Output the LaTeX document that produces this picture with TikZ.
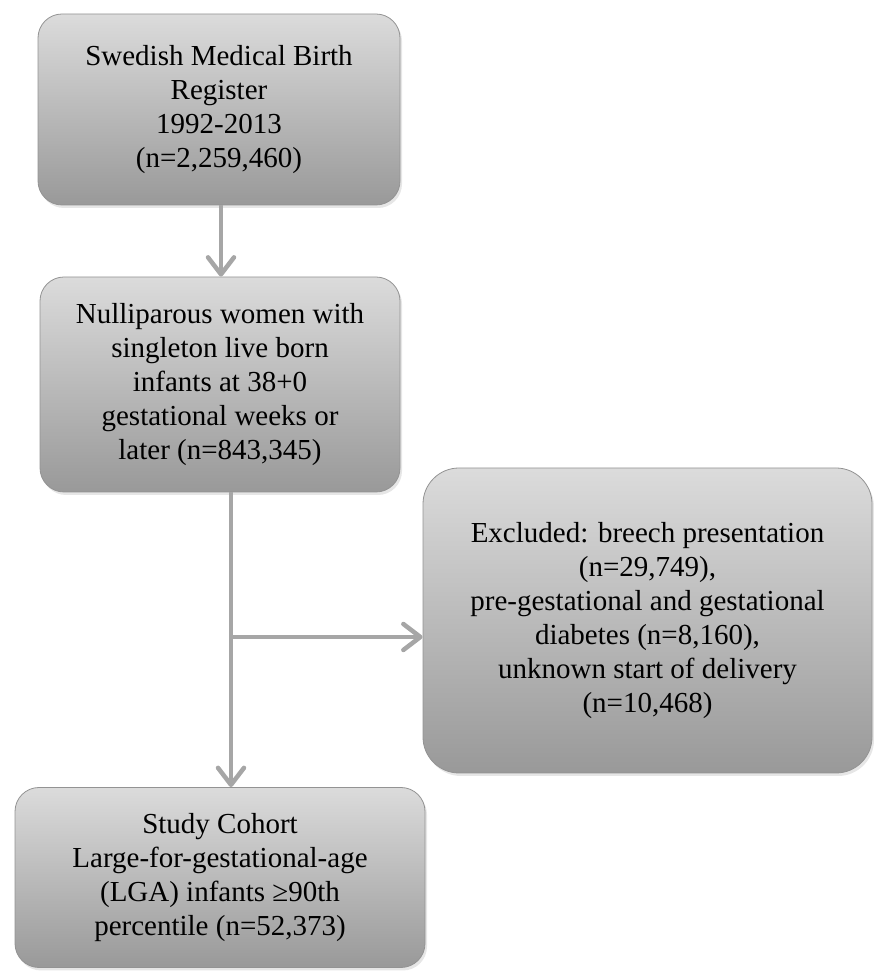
\documentclass[tikz,border=0pt]{standalone}
\usepackage{fontspec}
\setmainfont{Liberation Serif}
\usetikzlibrary{arrows.meta, shadows}

\tikzset{
  stage/.style={draw=gray!85, line width=0.8pt, rounded corners=24pt,
    top color=gray!28, bottom color=gray!80, align=center, inner sep=0pt,
    font=\fontsize{29}{34}\selectfont,
    drop shadow={opacity=0.2, shadow xshift=2pt, shadow yshift=-3pt}},
  flow/.style={draw=gray!70, line width=4.5pt,
    -{Straight Barb[length=17pt,width=26pt,round]}}
}

\begin{document}
\begin{tikzpicture}[x=1pt, y=1pt]

  \useasboundingbox (0,0) rectangle (873,976);

  % Boxes of the flow chart
  \node[stage, minimum width=362pt, minimum height=191pt] (reg) at (219, 866.5)
    {Swedish Medical Birth\\Register\\1992-2013\\(n=2,259,460)};

  \node[stage, minimum width=360pt, minimum height=215pt] (women) at (220, 591.5)
    {Nulliparous women with\\singleton live born\\infants at 38+0\\gestational weeks or\\later (n=843,345)};

  \node[stage, rounded corners=36pt, minimum width=449pt, minimum height=305pt]
    (excl) at (647.5, 355.5)
    {Excluded: breech presentation\\(n=29,749),\\pre-gestational and gestational\\diabetes (n=8,160),\\unknown start of delivery\\(n=10,468)};

  \node[stage, minimum width=410pt, minimum height=180pt] (cohort) at (220, 98.5)
    {Study Cohort\\Large-for-gestational-age\\(LGA) infants ≥90th\\percentile (n=52,373)};

  % Arrows
  \draw[flow] ([xshift=2pt]reg.south) -- ([xshift=1pt]women.north);
  \draw[flow] ([xshift=11pt]women.south) -- ([xshift=11pt]cohort.north);

  \coordinate (split) at (231, 339);
  \draw[flow] (split) -- (split -| excl.west);

\end{tikzpicture}
\end{document}
